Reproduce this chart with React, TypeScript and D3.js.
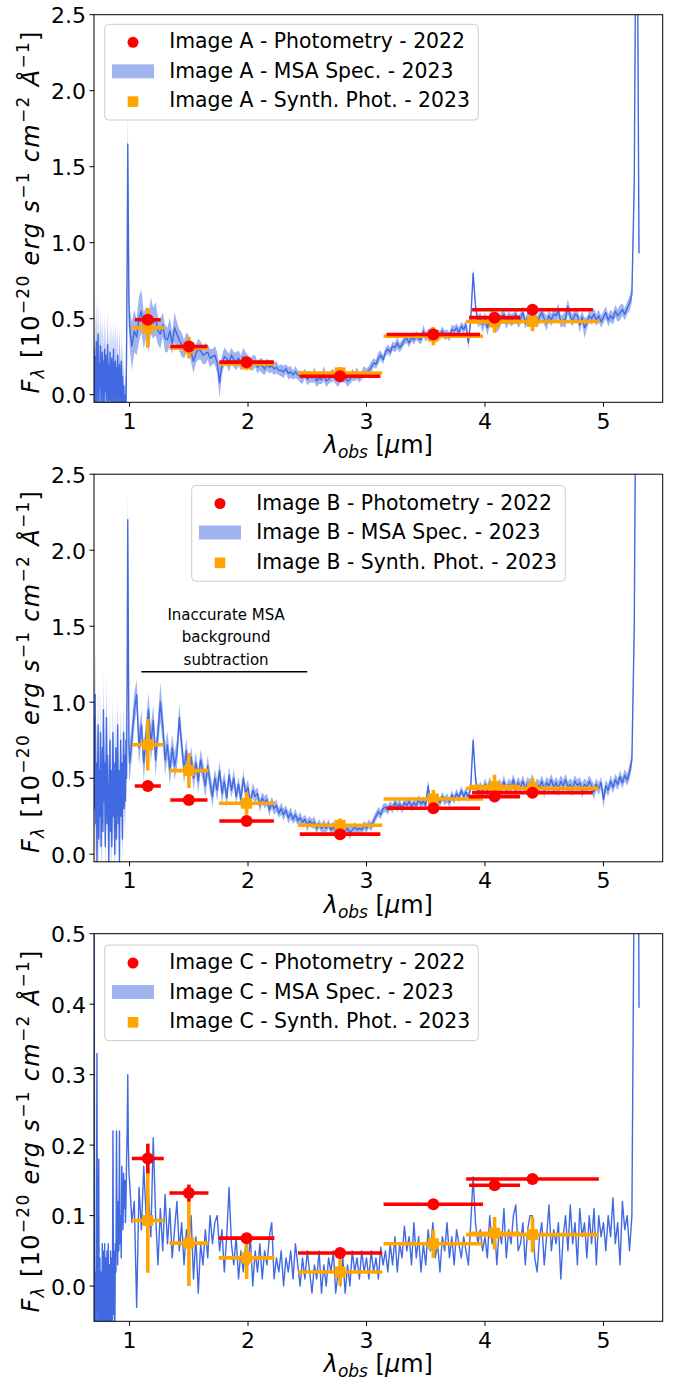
import React from 'react';
import * as d3 from 'd3';

// ---------- sampling grid of the MSA spectra (µm): 0.005 µm below 1 µm, 0.02 µm above ----------
const WAVE: number[] = [
  ...d3.range(140, 200).map((v) => v / 200),
  ...d3.range(100, 531, 2).map((v) => v / 100),
];

// ---------- photometric bands ----------
const BAND_X = [1.154, 1.501, 1.988, 2.777, 3.564, 4.081, 4.401];
const PHOT_XERR = [0.11, 0.157, 0.23, 0.34, 0.395, 0.215, 0.51];
const SYN_XERR = [0.135, 0.165, 0.235, 0.355, 0.42, 0.215, 0.56];

// ---------- Image A ----------
const PHOT_A = [0.493, 0.317, 0.214, 0.121, 0.396, 0.507, 0.559];
const PHOT_A_ERR = [0.035, 0.02, 0.02, 0.015, 0.02, 0.02, 0.02];
const SYN_A = [0.44, 0.308, 0.203, 0.143, 0.385, 0.478, 0.482];
const SYN_A_ERR = [0.13, 0.07, 0.04, 0.04, 0.06, 0.07, 0.065];
const SPEC_A = [
  0.30, -0.10, 0.25, -0.05, 0.35, -0.08, 0.15, 0.40, -0.10, 0.20,
  0.05, 0.32, -0.10, 0.18, 0.28, -0.06, 0.22, -0.10, 0.30, 0.02,
  0.26, -0.08, 0.15, 0.33, -0.10, 0.20, -0.04, 0.28, 0.08, -0.10,
  0.24, 0.12, -0.08, 0.30, -0.10, 0.16, 0.22, -0.06, 0.18, -0.10,
  0.26, 0.05, -0.10, 0.20, 0.10, -0.08, 0.22, -0.10, 0.12, -0.10,
  0.06, -0.10, -0.10, 0.00, -0.10, 0.30, 0.90, 1.65, 1.10, 0.60,
  0.45, 0.32, 0.42, 0.38, 0.50, 0.55, 0.42, 0.48, 0.40, 0.52,
  0.47, 0.50, 0.42, 0.40, 0.46, 0.37, 0.36, 0.42, 0.34, 0.44,
  0.40, 0.36, 0.33, 0.30, 0.34, 0.33, 0.28, 0.22, 0.27, 0.30,
  0.29, 0.26, 0.27, 0.28, 0.24, 0.25, 0.26, 0.21, 0.08, 0.20,
  0.25, 0.24, 0.21, 0.26, 0.23, 0.22, 0.24, 0.21, 0.25, 0.23,
  0.22, 0.20, 0.21, 0.22, 0.18, 0.20, 0.19, 0.17, 0.20, 0.18,
  0.19, 0.17, 0.18, 0.16, 0.16, 0.15, 0.17, 0.14, 0.15, 0.13,
  0.15, 0.13, 0.12, 0.11, 0.14, 0.10, 0.12, 0.11, 0.13, 0.09,
  0.11, 0.10, 0.14, 0.09, 0.10, 0.12, 0.13, 0.10, 0.09, 0.12,
  0.11, 0.12, 0.09, 0.10, 0.13, 0.12, 0.14, 0.11, 0.13, 0.15,
  0.14, 0.16, 0.18, 0.21, 0.20, 0.24, 0.26, 0.23, 0.28, 0.30,
  0.28, 0.32, 0.31, 0.34, 0.31, 0.33, 0.36, 0.37, 0.34, 0.38,
  0.36, 0.39, 0.37, 0.36, 0.42, 0.38, 0.40, 0.41, 0.41, 0.37,
  0.40, 0.39, 0.42, 0.39, 0.40, 0.38, 0.43, 0.42, 0.44, 0.41,
  0.45, 0.43, 0.46, 0.34, 0.50, 0.80, 0.58, 0.48, 0.50, 0.46,
  0.50, 0.44, 0.49, 0.52, 0.50, 0.45, 0.47, 0.51, 0.53, 0.47,
  0.51, 0.49, 0.50, 0.53, 0.48, 0.50, 0.54, 0.47, 0.51, 0.49,
  0.53, 0.50, 0.48, 0.51, 0.54, 0.50, 0.47, 0.52, 0.49, 0.53,
  0.52, 0.55, 0.48, 0.49, 0.50, 0.58, 0.51, 0.49, 0.53, 0.52,
  0.46, 0.51, 0.44, 0.47, 0.52, 0.50, 0.53, 0.49, 0.52, 0.48,
  0.51, 0.54, 0.49, 0.52, 0.50, 0.55, 0.52, 0.54, 0.56, 0.53,
  0.57, 0.60, 0.66, 1.40, 4.00, 0.93,
];
const SPEC_A_ERR = [
  0.38, 0.28, 0.30, 0.25, 0.30, 0.25, 0.28, 0.22, 0.25, 0.28,
  0.22, 0.25, 0.20, 0.24, 0.22, 0.25, 0.20, 0.22, 0.24, 0.20,
  0.22, 0.25, 0.20, 0.22, 0.20, 0.24, 0.20, 0.22, 0.20, 0.22,
  0.20, 0.24, 0.20, 0.22, 0.20, 0.22, 0.24, 0.20, 0.22, 0.20,
  0.20, 0.22, 0.20, 0.24, 0.20, 0.20, 0.22, 0.20, 0.20, 0.18,
  0.18, 0.15, 0.15, 0.15, 0.15, 0.15, 0.18, 0.20, 0.18, 0.15,
  0.12, 0.16, 0.14, 0.12, 0.15, 0.14, 0.12, 0.10, 0.12, 0.12,
  0.10, 0.11, 0.09, 0.10, 0.08, 0.09, 0.08, 0.09, 0.07, 0.10,
  0.08, 0.07, 0.08, 0.06, 0.07, 0.06, 0.07, 0.08, 0.06, 0.07,
  0.06, 0.06, 0.07, 0.05, 0.06, 0.05, 0.06, 0.07, 0.10, 0.06,
  0.06, 0.05, 0.06, 0.05, 0.05, 0.06, 0.05, 0.05, 0.06, 0.05,
  0.04, 0.04, 0.05, 0.04, 0.04, 0.04, 0.05, 0.04, 0.04, 0.04,
  0.04, 0.04, 0.04, 0.03, 0.04, 0.04, 0.03, 0.04, 0.04, 0.03,
  0.04, 0.03, 0.04, 0.04, 0.03, 0.04, 0.04, 0.03, 0.05, 0.04,
  0.04, 0.03, 0.05, 0.04, 0.03, 0.04, 0.04, 0.03, 0.04, 0.04,
  0.03, 0.04, 0.04, 0.03, 0.04, 0.03, 0.04, 0.03, 0.03, 0.04,
  0.03, 0.03, 0.04, 0.03, 0.03, 0.04, 0.03, 0.03, 0.03, 0.03,
  0.03, 0.03, 0.03, 0.04, 0.03, 0.03, 0.03, 0.03, 0.03, 0.03,
  0.03, 0.03, 0.03, 0.03, 0.04, 0.03, 0.03, 0.03, 0.03, 0.03,
  0.03, 0.03, 0.03, 0.03, 0.03, 0.03, 0.03, 0.03, 0.03, 0.03,
  0.03, 0.03, 0.03, 0.04, 0.03, 0.03, 0.03, 0.04, 0.04, 0.05,
  0.04, 0.05, 0.04, 0.04, 0.04, 0.04, 0.04, 0.04, 0.04, 0.04,
  0.04, 0.04, 0.04, 0.04, 0.04, 0.04, 0.04, 0.04, 0.04, 0.04,
  0.04, 0.04, 0.04, 0.04, 0.04, 0.04, 0.05, 0.04, 0.04, 0.04,
  0.04, 0.05, 0.04, 0.04, 0.06, 0.05, 0.04, 0.04, 0.04, 0.04,
  0.05, 0.04, 0.07, 0.04, 0.04, 0.04, 0.04, 0.04, 0.04, 0.04,
  0.04, 0.04, 0.04, 0.04, 0.04, 0.04, 0.04, 0.05, 0.04, 0.04,
  0.04, 0.05, 0.05, 0.10, 0.10, 0.20,
];

// ---------- Image B ----------
const PHOT_B = [0.449, 0.357, 0.218, 0.132, 0.302, 0.379, 0.405];
const PHOT_B_ERR = [0.03, 0.02, 0.02, 0.02, 0.02, 0.02, 0.03];
const SYN_B = [0.72, 0.55, 0.335, 0.19, 0.363, 0.445, 0.434];
const SYN_B_ERR = [0.17, 0.115, 0.075, 0.045, 0.06, 0.077, 0.066];
const SPEC_B = [
  0.90, 0.30, 1.05, 0.20, 0.60, -0.05, 0.45, 0.85, 0.10, 0.55,
  0.25, 0.80, 0.05, 0.40, 0.70, 0.15, 0.95, 0.35, 0.60, 0.05,
  0.50, 0.90, 0.20, 0.65, 0.30, -0.05, 0.45, 0.75, 0.15, 0.55,
  0.05, 0.40, 0.80, 0.25, 0.60, 0.00, 0.35, 0.70, 0.10, 0.50,
  0.85, 0.20, 0.55, -0.05, 0.45, 0.75, 0.25, 0.60, 0.10, 0.50,
  0.80, 0.30, 0.65, 0.35, 0.75, 0.50, 1.20, 2.20, 1.40, 0.70,
  0.60, 0.75, 0.95, 1.05, 0.70, 0.85, 0.60, 0.78, 0.95, 0.72,
  0.88, 0.62, 0.80, 1.00, 0.85, 0.62, 0.72, 0.55, 0.70, 0.58,
  0.66, 0.90, 0.72, 0.55, 0.68, 0.52, 0.64, 0.50, 0.60, 0.48,
  0.62, 0.54, 0.45, 0.58, 0.47, 0.38, 0.50, 0.42, 0.55, 0.40,
  0.48, 0.37, 0.52, 0.42, 0.50, 0.38, 0.46, 0.36, 0.50, 0.40,
  0.44, 0.34, 0.42, 0.38, 0.40, 0.32, 0.37, 0.34, 0.36, 0.29,
  0.34, 0.30, 0.32, 0.27, 0.30, 0.26, 0.29, 0.24, 0.27, 0.23,
  0.26, 0.22, 0.24, 0.21, 0.23, 0.19, 0.22, 0.20, 0.21, 0.17,
  0.20, 0.17, 0.19, 0.17, 0.20, 0.16, 0.18, 0.15, 0.17, 0.15,
  0.18, 0.15, 0.17, 0.14, 0.16, 0.18, 0.16, 0.17, 0.16, 0.19,
  0.17, 0.20, 0.18, 0.22, 0.25, 0.28, 0.26, 0.30, 0.31, 0.29,
  0.32, 0.30, 0.34, 0.31, 0.33, 0.30, 0.34, 0.32, 0.35, 0.31,
  0.34, 0.32, 0.36, 0.33, 0.35, 0.32, 0.45, 0.34, 0.37, 0.33,
  0.36, 0.34, 0.38, 0.35, 0.37, 0.34, 0.39, 0.36, 0.40, 0.37,
  0.42, 0.38, 0.41, 0.37, 0.45, 0.75, 0.50, 0.40, 0.44, 0.41,
  0.46, 0.42, 0.47, 0.43, 0.45, 0.41, 0.46, 0.43, 0.48, 0.42,
  0.46, 0.44, 0.49, 0.42, 0.47, 0.44, 0.48, 0.43, 0.47, 0.45,
  0.49, 0.43, 0.46, 0.44, 0.48, 0.42, 0.47, 0.45, 0.49, 0.44,
  0.47, 0.43, 0.48, 0.45, 0.49, 0.44, 0.46, 0.43, 0.48, 0.45,
  0.47, 0.42, 0.46, 0.44, 0.48, 0.45, 0.41, 0.46, 0.43, 0.47,
  0.36, 0.45, 0.42, 0.48, 0.44, 0.49, 0.46, 0.51, 0.47, 0.52,
  0.49, 0.54, 0.62, 1.50, 4.00, 4.00,
];
const SPEC_B_ERR = [
  0.40, 0.35, 0.35, 0.30, 0.30, 0.25, 0.30, 0.28, 0.25, 0.30,
  0.25, 0.30, 0.25, 0.25, 0.30, 0.20, 0.28, 0.25, 0.25, 0.20,
  0.25, 0.28, 0.20, 0.25, 0.20, 0.20, 0.25, 0.22, 0.20, 0.25,
  0.20, 0.22, 0.25, 0.20, 0.22, 0.20, 0.20, 0.25, 0.18, 0.20,
  0.22, 0.20, 0.20, 0.18, 0.20, 0.22, 0.20, 0.20, 0.18, 0.20,
  0.20, 0.18, 0.20, 0.18, 0.20, 0.18, 0.20, 0.20, 0.20, 0.20,
  0.12, 0.12, 0.11, 0.10, 0.12, 0.10, 0.12, 0.10, 0.11, 0.12,
  0.10, 0.11, 0.10, 0.13, 0.11, 0.10, 0.09, 0.10, 0.09, 0.09,
  0.09, 0.09, 0.08, 0.09, 0.08, 0.08, 0.07, 0.08, 0.07, 0.08,
  0.07, 0.07, 0.08, 0.07, 0.07, 0.07, 0.06, 0.07, 0.06, 0.07,
  0.06, 0.06, 0.06, 0.05, 0.06, 0.05, 0.05, 0.06, 0.05, 0.05,
  0.05, 0.04, 0.05, 0.04, 0.04, 0.04, 0.04, 0.04, 0.04, 0.04,
  0.04, 0.04, 0.04, 0.03, 0.04, 0.04, 0.03, 0.04, 0.04, 0.03,
  0.04, 0.03, 0.04, 0.03, 0.03, 0.04, 0.03, 0.03, 0.04, 0.03,
  0.03, 0.03, 0.04, 0.03, 0.03, 0.03, 0.04, 0.03, 0.03, 0.03,
  0.03, 0.03, 0.03, 0.04, 0.03, 0.03, 0.03, 0.03, 0.03, 0.03,
  0.03, 0.03, 0.03, 0.03, 0.03, 0.03, 0.03, 0.03, 0.03, 0.03,
  0.03, 0.03, 0.03, 0.03, 0.03, 0.03, 0.03, 0.03, 0.03, 0.03,
  0.03, 0.03, 0.03, 0.03, 0.03, 0.03, 0.04, 0.03, 0.03, 0.03,
  0.03, 0.03, 0.03, 0.03, 0.03, 0.03, 0.03, 0.03, 0.03, 0.03,
  0.03, 0.03, 0.03, 0.03, 0.04, 0.04, 0.04, 0.04, 0.04, 0.04,
  0.04, 0.04, 0.04, 0.04, 0.04, 0.04, 0.04, 0.04, 0.04, 0.04,
  0.04, 0.04, 0.04, 0.05, 0.04, 0.04, 0.04, 0.04, 0.04, 0.04,
  0.04, 0.04, 0.04, 0.04, 0.04, 0.05, 0.04, 0.04, 0.04, 0.04,
  0.04, 0.05, 0.04, 0.04, 0.04, 0.04, 0.04, 0.05, 0.04, 0.04,
  0.04, 0.05, 0.04, 0.04, 0.04, 0.04, 0.05, 0.04, 0.04, 0.04,
  0.06, 0.04, 0.04, 0.04, 0.04, 0.04, 0.04, 0.04, 0.04, 0.04,
  0.04, 0.05, 0.05, 0.10, 0.10, 0.10,
];

// ---------- Image C ----------
const PHOT_C = [0.181, 0.132, 0.068, 0.047, 0.116, 0.143, 0.152];
const PHOT_C_ERR = [0.021, 0.012, 0.004, 0.003, 0.003, 0.003, 0.003];
const SYN_C = [0.093, 0.061, 0.04, 0.02, 0.06, 0.075, 0.073];
const SYN_C_ERR = [0.074, 0.061, 0.03, 0.019, 0.02, 0.023, 0.025];
const SPEC_C = [
  0.90, -0.06, 0.02, -0.10, 0.05, 0.33, -0.08, 0.03, 0.18, -0.10,
  0.04, -0.10, 0.02, -0.09, 0.06, -0.10, 0.05, -0.08, 0.06, -0.10,
  0.04, -0.07, 0.05, -0.10, 0.06, -0.10, 0.03, -0.08, 0.05, -0.10,
  0.04, -0.06, 0.22, -0.04, 0.05, -0.10, 0.06, 0.02, 0.22, 0.08,
  0.03, 0.12, 0.05, 0.22, 0.06, 0.10, 0.04, 0.17, 0.13, 0.08,
  0.16, 0.11, 0.15, 0.09, 0.12, 0.18, 0.22, 0.30, 0.20, 0.16,
  0.15, 0.09, 0.12, -0.03, 0.14, 0.08, 0.17, 0.10, 0.13, 0.07,
  0.21, 0.10, 0.03, 0.11, 0.05, 0.13, 0.06, 0.11, 0.04, 0.08,
  0.12, 0.05, 0.09, 0.03, 0.08, 0.06, 0.10, 0.01, 0.07, -0.01,
  0.06, 0.03, 0.08, 0.04, 0.10, 0.06, 0.09, 0.10, 0.05, 0.08,
  0.02, 0.07, 0.14, 0.06, 0.03, 0.07, 0.01, 0.05, 0.02, 0.06,
  0.03, 0.07, 0.00, 0.05, 0.02, 0.06, 0.01, 0.05, 0.03, 0.07,
  0.09, 0.01, 0.04, 0.02, 0.05, 0.00, 0.04, 0.02, 0.05, 0.01,
  0.06, 0.03, 0.00, 0.04, 0.01, 0.05, 0.02, -0.01, 0.03, 0.01,
  0.05, -0.01, 0.03, 0.00, 0.04, 0.02, 0.05, -0.01, 0.02, 0.00,
  0.04, -0.01, 0.03, 0.00, 0.05, 0.02, 0.04, 0.01, 0.05, 0.02,
  0.04, 0.01, 0.05, 0.02, 0.04, 0.01, 0.055, 0.03, 0.05, 0.02,
  0.06, 0.03, 0.07, 0.02, 0.06, 0.04, 0.085, 0.05, 0.07, 0.03,
  0.09, 0.04, 0.07, 0.02, 0.06, 0.03, 0.08, 0.05, 0.09, 0.04,
  0.06, 0.02, 0.07, 0.05, 0.09, 0.04, 0.07, 0.03, 0.08, 0.06,
  0.04, 0.07, 0.05, 0.03, 0.09, 0.155, 0.09, 0.06, 0.08, 0.05,
  0.07, 0.04, 0.10, 0.06, 0.09, 0.03, 0.08, 0.06, 0.11, 0.04,
  0.08, 0.06, 0.10, 0.115, 0.05, 0.06, 0.09, 0.03, 0.08, 0.10,
  0.10, 0.04, 0.02, 0.07, 0.09, 0.03, 0.07, 0.115, 0.05, 0.08,
  0.06, 0.09, 0.01, 0.07, 0.10, 0.05, 0.115, 0.06, 0.09, 0.03,
  0.11, 0.07, 0.09, 0.04, 0.10, 0.06, 0.11, 0.03, 0.10, 0.07,
  0.09, 0.05, 0.10, 0.07, 0.125, 0.06, 0.09, 0.03, 0.12, 0.08,
  0.10, 0.05, 0.10, 0.60, 1.50, 0.395,
];

const TICKS_X = [1, 2, 3, 4, 5];
const TICKS_Y_AB = [0, 0.5, 1.0, 1.5, 2.0, 2.5];
const TICKS_Y_C = [0, 0.1, 0.2, 0.3, 0.4, 0.5];
const ANNOT_LINES = ['Inaccurate MSA', 'background', 'subtraction'];

// ---------- layout ----------
const FONT = "'DejaVu Sans', sans-serif";
const AX_L = 94;
const AX_R = 662.7;
const AX_H = 387.6;
const PANEL_TOPS = [14.7, 474.2, 933.7];
const BLUE = '#4169e1';
const RED = '#ff0000';
const ORANGE = '#ffa500';

type PanelProps = {
  idx: number;
  letter: string;
  yDomain: [number, number];
  yTicks: number[];
  spec: number[];
  err: number[] | null;
  phot: number[];
  photErr: number[];
  photXerr: number[];
  syn: number[];
  synErr: number[];
  legendX: number;
  legendY: number;
  annotate?: boolean;
};

function Panel(p: PanelProps) {
  const top = PANEL_TOPS[p.idx];
  const bottom = top + AX_H;
  const x = d3.scaleLinear().domain([0.7, 5.5]).range([AX_L, AX_R]);
  const y = d3.scaleLinear().domain(p.yDomain).range([bottom, top]);
  const n = Math.min(WAVE.length, p.spec.length);
  const idxs = d3.range(n);
  const line = d3
    .line<number>()
    .x((i) => x(WAVE[i]))
    .y((i) => y(p.spec[i]));
  const err = p.err;
  const area = err
    ? d3
        .area<number>()
        .x((i) => x(WAVE[i]))
        .y0((i) => y(p.spec[i] - (err[i] ?? 0)))
        .y1((i) => y(p.spec[i] + (err[i] ?? 0)))
    : null;
  const clipId = `clip${p.idx}`;
  const fmt = d3.format('.1f');
  const midY = (top + bottom) / 2;
  const midX = (AX_L + AX_R) / 2;
  const lx = p.legendX;
  const ly = p.legendY;
  const sup = 17;

  const errBars = (vals: number[], yerr: number[], xerr: number[], color: string, key: string) =>
    vals.map((v, i) => (
      <g key={key + i}>
        <line x1={x(BAND_X[i] - xerr[i])} x2={x(BAND_X[i] + xerr[i])} y1={y(v)} y2={y(v)} stroke={color} strokeWidth={3.6} />
        <line x1={x(BAND_X[i])} x2={x(BAND_X[i])} y1={y(v - yerr[i])} y2={y(v + yerr[i])} stroke={color} strokeWidth={3.6} />
      </g>
    ));

  return (
    <g>
      <defs>
        <clipPath id={clipId}>
          <rect x={AX_L} y={top} width={AX_R - AX_L} height={AX_H} />
        </clipPath>
      </defs>
      <g clipPath={`url(#${clipId})`}>
        {area && <path d={area(idxs) || ''} fill={BLUE} fillOpacity={0.5} stroke="none" />}
        <path d={line(idxs) || ''} fill="none" stroke={BLUE} strokeWidth={1.4} strokeLinejoin="round" />
        {errBars(p.syn, p.synErr, SYN_XERR, ORANGE, 's')}
        {p.syn.map((v, i) => (
          <rect key={'sq' + i} x={x(BAND_X[i]) - 5.5} y={y(v) - 5.5} width={11} height={11} fill={ORANGE} />
        ))}
        {errBars(p.phot, p.photErr, p.photXerr, RED, 'p')}
        {p.phot.map((v, i) => (
          <circle key={'c' + i} cx={x(BAND_X[i])} cy={y(v)} r={6} fill={RED} />
        ))}
        {p.annotate && (
          <g>
            <line x1={x(1.1)} x2={x(2.5)} y1={y(1.2)} y2={y(1.2)} stroke="#000" strokeWidth={1.5} />
            {ANNOT_LINES.map((t, k) => (
              <text key={t} x={x(1.815)} y={y(1.43) + (k - 1) * 22.6 + 5.5} textAnchor="middle" fontSize={15} fontFamily={FONT} fill="#000">
                {t}
              </text>
            ))}
          </g>
        )}
      </g>
      {/* frame */}
      <rect x={AX_L} y={top} width={AX_R - AX_L} height={AX_H} fill="none" stroke="#000" strokeWidth={1} />
      {/* x ticks */}
      {TICKS_X.map((t) => (
        <g key={'xt' + t}>
          <line x1={x(t)} x2={x(t)} y1={bottom} y2={bottom + 4.5} stroke="#000" strokeWidth={1} />
          <text x={x(t)} y={bottom + 26.2} textAnchor="middle" fontSize={22} fontFamily={FONT} fill="#000">
            {t}
          </text>
        </g>
      ))}
      {/* y ticks */}
      {p.yTicks.map((t) => (
        <g key={'yt' + t}>
          <line x1={AX_L - 4.5} x2={AX_L} y1={y(t)} y2={y(t)} stroke="#000" strokeWidth={1} />
          <text x={AX_L - 8} y={y(t) + 8.6} textAnchor="end" fontSize={22} fontFamily={FONT} fill="#000">
            {fmt(t)}
          </text>
        </g>
      ))}
      {/* x label */}
      <text x={midX} y={bottom + 50.7} textAnchor="middle" fontSize={24} fontFamily={FONT} fill="#000">
        <tspan fontStyle="italic">λ</tspan>
        <tspan fontStyle="italic" fontSize={sup} dy={5}>obs</tspan>
        <tspan dy={-5}> [</tspan>
        <tspan fontStyle="italic">μ</tspan>
        <tspan>m]</tspan>
      </text>
      {/* y label */}
      <text
        transform={`translate(39,${midY + 4}) rotate(-90)`}
        textAnchor="middle"
        fontSize={24}
        fontFamily={FONT}
        fill="#000"
        textLength={362}
        lengthAdjust="spacing"
      >
        <tspan fontStyle="italic">F</tspan>
        <tspan fontStyle="italic" fontSize={sup} dy={5}>λ</tspan>
        <tspan dy={-5}> [10</tspan>
        <tspan fontSize={sup} dy={-10}>−20</tspan>
        <tspan dy={10}> </tspan>
        <tspan fontStyle="italic">erg s</tspan>
        <tspan fontSize={sup} dy={-10}>−1</tspan>
        <tspan dy={10}> </tspan>
        <tspan fontStyle="italic">cm</tspan>
        <tspan fontSize={sup} dy={-10}>−2</tspan>
        <tspan dy={10}> </tspan>
        <tspan fontStyle="italic">Å</tspan>
        <tspan fontSize={sup} dy={-10}>−1</tspan>
        <tspan dy={10}>]</tspan>
      </text>
      {/* legend */}
      <g>
        <rect x={lx} y={ly} width={373.6} height={95.7} rx={4} fill="#fff" fillOpacity={0.8} stroke="#cccccc" strokeWidth={1} />
        <circle cx={lx + 28.3} cy={ly + 18} r={5.5} fill={RED} />
        <rect x={lx + 7.3} y={ly + 40} width={42} height={14} fill={BLUE} fillOpacity={0.5} />
        <rect x={lx + 23} y={ly + 72} width={10.6} height={10.6} fill={ORANGE} />
        {[`Image ${p.letter} - Photometry - 2022`, `Image ${p.letter} - MSA Spec. - 2023`, `Image ${p.letter} - Synth. Phot. - 2023`].map((t, k) => (
          <text key={t} x={lx + 64.5} y={ly + 24 + k * 29.5} fontSize={20.4} fontFamily={FONT} fill="#000">
            {t}
          </text>
        ))}
      </g>
    </g>
  );
}

export default function App() {
  return (
    <svg width={676} height={1382} style={{ position: 'absolute', left: 0, top: 0, background: '#fff' }}>
      <rect width={676} height={1382} fill="#fff" />
      <Panel
        idx={0}
        letter="A"
        yDomain={[-0.05, 2.5]}
        yTicks={TICKS_Y_AB}
        spec={SPEC_A}
        err={SPEC_A_ERR}
        phot={PHOT_A}
        photErr={PHOT_A_ERR}
        photXerr={PHOT_XERR}
        syn={SYN_A}
        synErr={SYN_A_ERR}
        legendX={104.7}
        legendY={24.3}
      />
      <Panel
        idx={1}
        letter="B"
        yDomain={[-0.05, 2.5]}
        yTicks={TICKS_Y_AB}
        spec={SPEC_B}
        err={SPEC_B_ERR}
        phot={PHOT_B}
        photErr={PHOT_B_ERR}
        photXerr={PHOT_XERR}
        syn={SYN_B}
        synErr={SYN_B_ERR}
        legendX={191.7}
        legendY={485.5}
        annotate
      />
      <Panel
        idx={2}
        letter="C"
        yDomain={[-0.05, 0.5]}
        yTicks={TICKS_Y_C}
        spec={SPEC_C}
        err={null}
        phot={PHOT_C}
        photErr={PHOT_C_ERR}
        photXerr={SYN_XERR}
        syn={SYN_C}
        synErr={SYN_C_ERR}
        legendX={104.7}
        legendY={945}
      />
    </svg>
  );
}
